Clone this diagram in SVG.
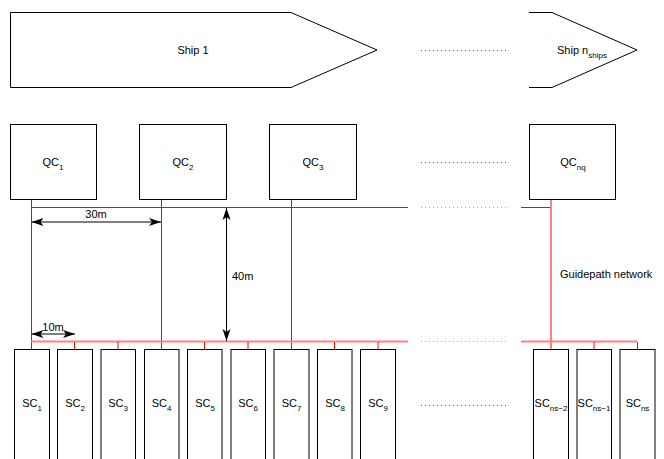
<svg xmlns="http://www.w3.org/2000/svg" width="664" height="459" viewBox="0 0 664 459">
<style>
text{font-family:"Liberation Sans",Arial,sans-serif;font-size:11px;fill:#000}
.sub{font-size:8px}
.box{fill:#fff;stroke:#000;stroke-width:1}
.red{stroke:#ff0000;stroke-width:1;fill:none}
.pink{stroke:#ff8080;stroke-width:2;fill:none}
.rdot{stroke:#ff8080;stroke-width:1;stroke-dasharray:1 3;fill:none}
.kdot{stroke:#666;stroke-width:1;stroke-dasharray:1 3;fill:none}
.dim{stroke:#000;stroke-width:1;fill:none;marker-start:url(#ah);marker-end:url(#ah)}
</style>
<defs>
<marker id="ah" markerUnits="userSpaceOnUse" markerWidth="14" markerHeight="10" refX="12" refY="5" orient="auto-start-reverse" viewBox="0 0 14 10">
<path d="M0,1 L12,5 L0,9 L3,5 Z" fill="#000"/>
</marker>
</defs>

<g id="ship1">
<path class="box" d="M10.5,12.5 H291 L377,50 L291,87.5 H10.5 Z"/>
<text x="193" y="54" text-anchor="middle">Ship 1</text>
</g>
<g id="shipn">
<path class="box" d="M529,12.5 H552 L637,50 L552,87.5 H529" />
<text x="557" y="54">Ship n<tspan class="sub" dy="4">ships</tspan></text>
</g>
<g id="dots">
<line class="kdot" x1="421" y1="50.5" x2="508" y2="50.5"/>
<line class="kdot" x1="421" y1="162.5" x2="508" y2="162.5"/>
<line class="kdot" x1="421" y1="405.5" x2="508" y2="405.5"/>
</g>

<g id="connectors">
<line class="red" x1="31" y1="207.5" x2="408" y2="207.5"/>
<line class="rdot" x1="421" y1="207.5" x2="508" y2="207.5"/>
<line class="red" x1="521" y1="207.5" x2="551" y2="207.5"/>
<line class="red" x1="31.5" y1="199" x2="31.5" y2="349"/>
<line class="red" x1="161.5" y1="199" x2="161.5" y2="349"/>
<line class="red" x1="291.5" y1="199" x2="291.5" y2="349"/>
<line class="pink" x1="551" y1="199" x2="551" y2="349"/>
<line class="pink" x1="31" y1="341.5" x2="408" y2="341.5"/>
<line class="rdot" x1="421" y1="341.5" x2="508" y2="341.5"/>
<line class="pink" x1="521" y1="341.5" x2="637" y2="341.5"/>
<g class="red">
<line x1="74.5" y1="342" x2="74.5" y2="349"/>
<line x1="118" y1="342" x2="118" y2="349"/>
<line x1="204.5" y1="342" x2="204.5" y2="349"/>
<line x1="248" y1="342" x2="248" y2="349"/>
<line x1="334.5" y1="342" x2="334.5" y2="349"/>
<line x1="378" y1="342" x2="378" y2="349"/>
<line x1="594" y1="342" x2="594" y2="349"/>
<line x1="637.5" y1="342" x2="637.5" y2="349"/>
</g>
<line class="dim" x1="31.5" y1="222" x2="161" y2="222"/>
<line class="dim" x1="226.5" y1="208" x2="226.5" y2="341"/>
<line class="dim" x1="31.5" y1="334" x2="75" y2="334"/>
</g>
<text x="96" y="218" text-anchor="middle">30m</text>
<text x="232" y="280">40m</text>
<text x="53" y="331" text-anchor="middle">10m</text>
<text x="560" y="278">Guidepath network</text>

<g id="qc1"><rect class="box" x="10.5" y="124.5" width="86" height="75"/><text x="53" y="166" text-anchor="middle">QC<tspan class="sub" dy="4">1</tspan></text></g>
<g id="qc2"><rect class="box" x="139.5" y="124.5" width="87" height="75"/><text x="183" y="166" text-anchor="middle">QC<tspan class="sub" dy="4">2</tspan></text></g>
<g id="qc3"><rect class="box" x="269.5" y="124.5" width="87" height="75"/><text x="313" y="166" text-anchor="middle">QC<tspan class="sub" dy="4">3</tspan></text></g>
<g id="qcnq"><rect class="box" x="529.5" y="124.5" width="86" height="75"/><text x="573" y="166" text-anchor="middle">QC<tspan class="sub" dy="4">nq</tspan></text></g>

<g id="sc1"><rect class="box" x="14.5" y="349.5" width="35" height="130"/><text x="32" y="407" text-anchor="middle">SC<tspan class="sub" dy="4">1</tspan></text></g>
<g id="sc2"><rect class="box" x="57.5" y="349.5" width="35" height="130"/><text x="75" y="407" text-anchor="middle">SC<tspan class="sub" dy="4">2</tspan></text></g>
<g id="sc3"><rect class="box" x="101" y="349.5" width="34.5" height="130"/><text x="118" y="407" text-anchor="middle">SC<tspan class="sub" dy="4">3</tspan></text></g>
<g id="sc4"><rect class="box" x="144.5" y="349.5" width="34.5" height="130"/><text x="161.5" y="407" text-anchor="middle">SC<tspan class="sub" dy="4">4</tspan></text></g>
<g id="sc5"><rect class="box" x="187.5" y="349.5" width="34.5" height="130"/><text x="205" y="407" text-anchor="middle">SC<tspan class="sub" dy="4">5</tspan></text></g>
<g id="sc6"><rect class="box" x="231" y="349.5" width="34.5" height="130"/><text x="248" y="407" text-anchor="middle">SC<tspan class="sub" dy="4">6</tspan></text></g>
<g id="sc7"><rect class="box" x="274" y="349.5" width="35" height="130"/><text x="291.5" y="407" text-anchor="middle">SC<tspan class="sub" dy="4">7</tspan></text></g>
<g id="sc8"><rect class="box" x="317.5" y="349.5" width="34.5" height="130"/><text x="335" y="407" text-anchor="middle">SC<tspan class="sub" dy="4">8</tspan></text></g>
<g id="sc9"><rect class="box" x="360.5" y="349.5" width="35" height="130"/><text x="378" y="407" text-anchor="middle">SC<tspan class="sub" dy="4">9</tspan></text></g>
<g id="scns2"><rect class="box" x="533.5" y="349.5" width="35" height="130"/><text x="551" y="407" text-anchor="middle">SC<tspan class="sub" dy="4">ns−2</tspan></text></g>
<g id="scns1"><rect class="box" x="577" y="349.5" width="34.5" height="130"/><text x="594" y="407" text-anchor="middle">SC<tspan class="sub" dy="4">ns−1</tspan></text></g>
<g id="scns"><rect class="box" x="620" y="349.5" width="35" height="130"/><text x="637.5" y="407" text-anchor="middle">SC<tspan class="sub" dy="4">ns</tspan></text></g>
</svg>
